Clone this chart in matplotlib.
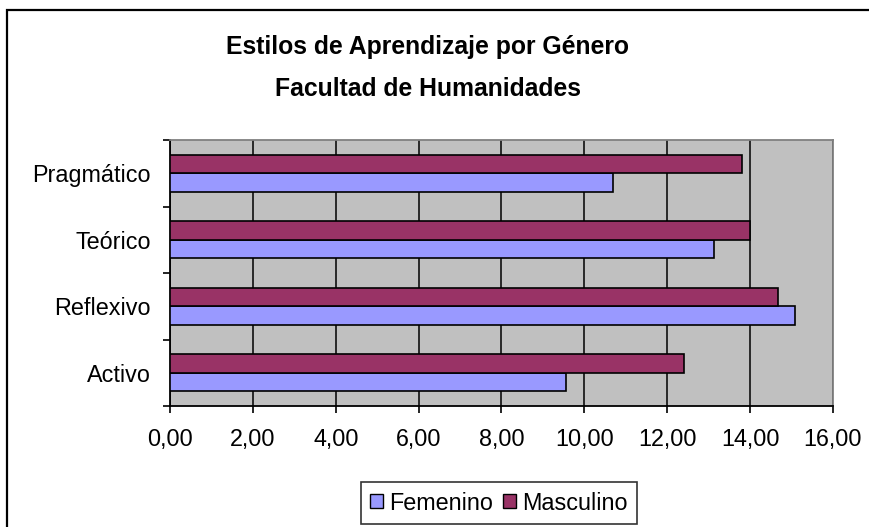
import matplotlib
matplotlib.use("Agg")
import matplotlib.pyplot as plt
from matplotlib.patches import Rectangle, Patch
import numpy as np

categories = ["Activo", "Reflexivo", "Teórico", "Pragmático"]
femenino = [9.55, 15.08, 13.14, 10.69]
masculino = [12.40, 14.68, 14.00, 13.81]
xticks = [0, 2, 4, 6, 8, 10, 12, 14, 16]
xtick_labels = ["0,00", "2,00", "4,00", "6,00", "8,00", "10,00", "12,00", "14,00", "16,00"]

plt.rcParams['font.family'] = ['Liberation Sans', 'DejaVu Sans']

W, H = 870, 527
fig = plt.figure(figsize=(W / 100, H / 100), dpi=100)
fig.patch.set_facecolor("white")

# outer chart border
fig.patches.append(Rectangle((7 / W, -0.1), 1.2, 1 - 10 / H + 0.1, transform=fig.transFigure,
                             fill=False, edgecolor="black", linewidth=1.6))

left, right, top, bottom = 170, 833, 140, 406
ax = fig.add_axes([left / W, 1 - bottom / H, (right - left) / W, (bottom - top) / H])
ax.set_facecolor("#C0C0C0")

y = np.arange(len(categories))
h = 0.28
ax.barh(y - h / 2, femenino, height=h, color="#9999FF", edgecolor="black", linewidth=1.2,
        label="Femenino", zorder=3)
ax.barh(y + h / 2, masculino, height=h, color="#993366", edgecolor="black", linewidth=1.2,
        label="Masculino", zorder=3)

fs = 16.8
ax.set_xlim(0, 16)
ax.set_ylim(-0.5, len(categories) - 0.5)
ax.set_xticks(xticks)
ax.set_xticklabels(xtick_labels, fontsize=fs)
ax.set_yticks(y)
ax.set_yticklabels(categories, fontsize=fs)
ax.set_yticks(np.arange(-0.5, len(categories)), minor=True)
ax.tick_params(axis="y", which="major", length=0, pad=14)
ax.tick_params(axis="y", which="minor", length=5, width=1.2, direction="out")
ax.tick_params(axis="x", which="major", length=5, width=1.2, direction="out", pad=11)
ax.xaxis.grid(True, color="black", linewidth=1.1, zorder=1)
ax.set_axisbelow(True)

for s in ["left", "bottom"]:
    ax.spines[s].set_color("black")
    ax.spines[s].set_linewidth(1.3)
for s in ["top", "right"]:
    ax.spines[s].set_color("#808080")
    ax.spines[s].set_linewidth(1.3)

fig.text(428 / W, 1 - 47 / H, "Estilos de Aprendizaje por Género",
         ha="center", va="center", fontsize=17.8, fontweight="bold")
fig.text(428 / W, 1 - 89 / H, "Facultad de Humanidades",
         ha="center", va="center", fontsize=17.8, fontweight="bold")

handles = [Patch(facecolor="#9999FF", edgecolor="black", label="Femenino"),
           Patch(facecolor="#993366", edgecolor="black", label="Masculino")]
leg = fig.legend(handles=handles, loc="center", bbox_to_anchor=(499 / W, 1 - 503 / H),
                 ncol=2, fontsize=fs, frameon=True, fancybox=False, edgecolor="black",
                 handlelength=0.55, handleheight=0.55, handletextpad=0.25, columnspacing=0.45,
                 borderpad=0.4, borderaxespad=0)
leg.get_frame().set_linewidth(1.2)

fig.savefig("out.png", dpi=100)
